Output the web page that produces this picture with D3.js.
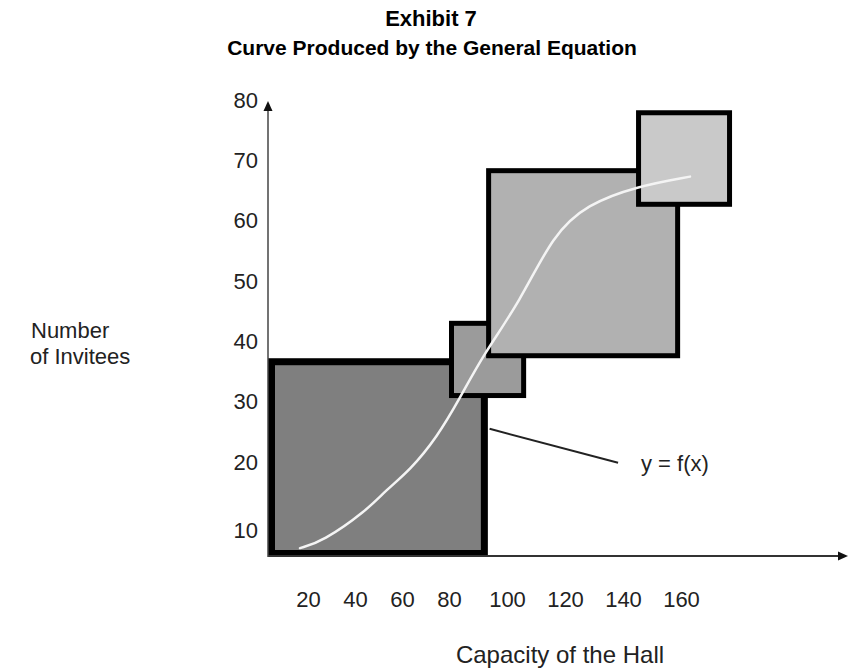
<!DOCTYPE html>
<html>
<head>
<meta charset="utf-8">
<script src="https://cdn.jsdelivr.net/npm/d3@7"></script>
<style>
  html, body { margin: 0; padding: 0; background: #fff; }
  svg { display: block; }
  .lbl { font-family: 'Liberation Sans', Arial, Helvetica, sans-serif; fill: #222; }
  .ttl { font-family: 'Liberation Sans', Arial, Helvetica, sans-serif; font-weight: bold; fill: #000; }
</style>
</head>
<body>
<svg id="chart" width="848" height="671"></svg>
<script>
var xTicks = [20, 40, 60, 80, 100, 120, 140, 160];
var yTicks = [10, 20, 30, 40, 50, 60, 70, 80];

// the four nested steps, in data units, drawn in this order
var squareNames = ['base', 'step', 'middle', 'top'];
var squareX0 = [0, 80, 92.8, 144.5];
var squareX1 = [93.4, 106.6, 159.7, 177.6];
var squareY0 = [0, 30.6, 37.2, 62.3];
var squareY1 = [37.2, 43.4, 68.7, 78.3];

// y = f(x)
var curveX = [16, 26, 45.1, 53, 63.4, 74.9, 83.8, 91.7, 104.5, 115.9, 127.6, 144.8, 163.1];
var curveY = [3.3, 5.6, 12.9, 15.8, 18.8, 24.1, 30.6, 37.7, 46.6, 57.7, 62.7, 65.7, 67.3];

var fillsForSquares = {
  base: '#7f7f7f',
  step: '#9b9b9b',
  middle: '#b1b1b1',
  top: '#c9c9c9'
};
var strokesForSquares = { base: 7, step: 5, middle: 5, top: 5 };

var svg = d3.select('#chart');

// the axes are drawn schematically, so the spacing is not even
var x = d3.scaleLinear().domain([0, 20, 80, 160]).range([268, 308, 449, 681]);
var y = d3.scaleLinear().domain([0, 10, 20, 80]).range([557, 530, 462, 100]);

var squares = squareNames.map(function(name, i) {
  return { name: name, x0: squareX0[i], x1: squareX1[i], y0: squareY0[i], y1: squareY1[i] };
});

svg.selectAll('.square')
  .data(squares)
  .enter()
  .append('rect')
  .classed('square', true)
  .attr('x', function(d) { return x(d.x0) + strokesForSquares[d.name] / 2; })
  .attr('y', function(d) { return y(d.y1) + strokesForSquares[d.name] / 2; })
  .attr('width', function(d) { return x(d.x1) - x(d.x0) - strokesForSquares[d.name]; })
  .attr('height', function(d) { return y(d.y0) - y(d.y1) - strokesForSquares[d.name]; })
  .attr('fill', function(d) { return fillsForSquares[d.name]; })
  .attr('stroke', '#000')
  .attr('stroke-width', function(d) { return strokesForSquares[d.name]; });

// axis lines with arrow heads
svg.append('line')
  .attr('x1', x(0)).attr('y1', y(0) - 1)
  .attr('x2', 848 - 8).attr('y2', y(0) - 1)
  .attr('stroke', '#333').attr('stroke-width', 2);
svg.append('path')
  .attr('d', 'M848,' + (y(0) - 1) + 'l-10,-4.5l0,9z')
  .attr('fill', '#111');
svg.append('line')
  .attr('x1', x(0)).attr('y1', y(0))
  .attr('x2', x(0)).attr('y2', 110)
  .attr('stroke', '#444').attr('stroke-width', 1.5);
svg.append('path')
  .attr('d', 'M' + x(0) + ',101l-4.5,10l9,0z')
  .attr('fill', '#111');

var line = d3.line()
  .x(function(d) { return x(d[0]); })
  .y(function(d) { return y(d[1]); })
  .curve(d3.curveBasis);

svg.append('path')
  .datum(curveX.map(function(v, i) { return [v, curveY[i]]; }))
  .attr('d', line)
  .attr('fill', 'none')
  .attr('stroke', '#f4f4f4')
  .attr('stroke-width', 2.5)
  .attr('stroke-linecap', 'round');

// leader for the label
svg.append('line')
  .attr('x1', x(94)).attr('y1', y(25.5))
  .attr('x2', x(138.3)).attr('y2', y(19.9))
  .attr('stroke', '#222').attr('stroke-width', 2);
svg.append('text')
  .classed('lbl', true)
  .attr('x', x(146.2)).attr('y', y(19.9) + 8)
  .attr('font-size', 22)
  .text('y = f(x)');

var xAxis = svg.append('g')
  .attr('transform', 'translate(0,' + y(0) + ')')
  .call(d3.axisBottom(x).tickValues(xTicks).tickSize(0).tickPadding(34));
var yAxis = svg.append('g')
  .attr('transform', 'translate(' + x(0) + ',0)')
  .call(d3.axisLeft(y).tickValues(yTicks).tickSize(0).tickPadding(10));

[xAxis, yAxis].forEach(function(g) {
  g.select('.domain').remove();
  g.attr('font-family', null).attr('font-size', null);
  g.selectAll('text').classed('lbl', true).attr('font-size', 22).attr('fill', '#222');
});

svg.append('text').classed('lbl', true)
  .attr('x', 560).attr('y', 663)
  .attr('text-anchor', 'middle').attr('font-size', 24)
  .text('Capacity of the Hall');
svg.append('text').classed('lbl', true)
  .attr('x', 31).attr('y', 338).attr('font-size', 22)
  .text('Number');
svg.append('text').classed('lbl', true)
  .attr('x', 30).attr('y', 364).attr('font-size', 22)
  .text('of Invitees');

svg.append('text').classed('ttl', true)
  .attr('x', 431).attr('y', 26)
  .attr('text-anchor', 'middle').attr('font-size', 22)
  .text('Exhibit 7');
svg.append('text').classed('ttl', true)
  .attr('x', 432).attr('y', 55)
  .attr('text-anchor', 'middle').attr('font-size', 21)
  .text('Curve Produced by the General Equation');
</script>
</body>
</html>
